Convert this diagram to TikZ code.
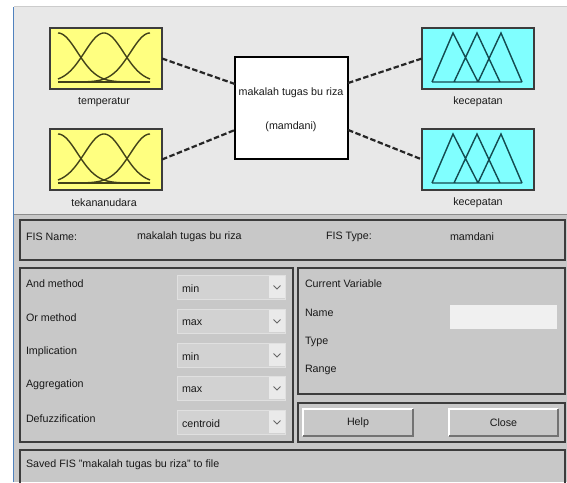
\documentclass[tikz,border=0pt]{standalone}
\usepackage{fontspec}
\setmainfont{Liberation Sans}
\usetikzlibrary{calc}

\definecolor{winbg}{RGB}{232,232,232}
\definecolor{panelbg}{RGB}{200,200,200}
\definecolor{mfyellow}{RGB}{255,255,128}
\definecolor{mfcyan}{RGB}{128,255,255}
\definecolor{inkdark}{RGB}{25,25,25}
\definecolor{edgedark}{RGB}{60,60,60}
\definecolor{winblue}{RGB}{80,130,190}
\definecolor{dropbg}{RGB}{210,210,210}
\definecolor{chevbg}{RGB}{234,234,234}
\definecolor{fieldbg}{RGB}{240,240,240}

\tikzset{
  txt/.style={inner sep=0pt, outer sep=0pt, text=inkdark,
    font=\fontsize{10.7}{12}\selectfont},
  lbl/.style={txt, anchor=west},
  mfbox/.style={draw=edgedark, line width=1.2pt, inner sep=0pt, outer sep=0pt,
    anchor=north west, minimum width=112, minimum height=61},
  mfinput/.style={mfbox, fill=mfyellow},
  mfoutput/.style={mfbox, fill=mfcyan},
  gausscurve/.style={draw={rgb,255:red,65;green,65;blue,25}, line width=1.4pt},
  tricurve/.style={draw={rgb,255:red,20;green,75;blue,80}, line width=1.4pt},
  fisbox/.style={draw=black, line width=1.6pt, fill=white, inner sep=0pt,
    outer sep=0pt, anchor=north west, minimum width=113, minimum height=102},
  link/.style={draw=black!85, line width=2.2pt, dash pattern=on 5.5pt off 2.5pt},
  panel/.style={draw=edgedark, line width=1.4pt},
  dropbox/.style={fill=dropbg, draw=black!12, line width=0.5pt},
  chevbox/.style={fill=chevbg},
  chev/.style={draw=black!60, line width=0.8pt},
  btn/.style={fill=panelbg},
  btnlight/.style={draw=white, line width=1.4pt},
  btndark/.style={draw=black!55, line width=1.4pt},
}

\begin{document}
\begin{tikzpicture}[x=1pt, y=-1pt]
\useasboundingbox (0,0) rectangle (567,482);
\fill[white] (0,0) rectangle (567,482);

% window background: diagram area and control area
\fill[winbg] (14,7) rectangle (567,214);
\fill[panelbg] (14,214) rectangle (567,482);
\draw[black!20, line width=0.8pt] (14,6.5) -- (567,6.5);
\draw[black!45, line width=1pt] (14,214) -- (567,214);
\draw[winblue, line width=1.5pt] (13.5,7) -- (13.5,482);

% input variables (gaussian membership functions)
\node[mfinput] (temp) at (50,28) {};
\node[mfinput] (tekanan) at (50,129) {};
\foreach \oy in {0,101} {
  \foreach \c in {58,104,150} {
    \draw[gausscurve] plot[domain=58:150, samples=70, smooth]
      (\x, {82+\oy-49*exp(-((\x-\c)^2)/(2*19.5^2))});
  }
  \draw[gausscurve] (58,82+\oy) -- (150,82+\oy);
}
\node[txt] (templbl) at (104,102) {temperatur};
\node[txt] (tekananlbl) at (104,203) {tekananudara};

% output variables (triangular membership functions)
\node[mfoutput] (kec1) at (422,28) {};
\node[mfoutput] (kec2) at (422,129) {};
\foreach \oy in {0,101} {
  \draw[tricurve, line join=miter]
    (432,82+\oy) -- (453,33+\oy) -- (478,82+\oy)
    (454,82+\oy) -- (477,33+\oy) -- (500,82+\oy)
    (478,82+\oy) -- (501,33+\oy) -- (522,82+\oy)
    (432,82+\oy) -- (522,82+\oy);
}
\node[txt] (kec1lbl) at (478,102) {kecepatan};
\node[txt] (kec2lbl) at (478,203) {kecepatan};

% FIS system block
\node[fisbox] (fis) at (235,57) {};
\node[txt] (fisname) at (291,93) {makalah tugas bu riza};
\node[txt] (fistype) at (291,127) {(mamdani)};

% rule-base links
\draw[link] (temp.east) -- ($(fis.north west)!0.265!(fis.south west)$);
\draw[link] (tekanan.east) -- ($(fis.north west)!0.715!(fis.south west)$);
\draw[link] ($(fis.north east)!0.255!(fis.south east)$) -- (kec1.west);
\draw[link] ($(fis.north east)!0.715!(fis.south east)$) -- (kec2.west);

% FIS name / type panel
\draw[panel] (20,220) rectangle (565,260);
\node[lbl] (namekey) at (26,237) {FIS Name:};
\node[lbl] (nameval) at (137,237) {makalah tugas bu riza};
\node[lbl] (typekey) at (326,237) {FIS Type:};
\node[lbl] (typeval) at (450,237) {mamdani};

% method panel
\draw[panel] (20,268) rectangle (293,442);
\foreach \y/\lab/\val in {275/And method/min, 309/Or method/max,
    343/Implication/min, 376/Aggregation/max, 410/Defuzzification/centroid} {
  \fill[dropbox] (177,\y) rectangle (285,\y+24);
  \fill[chevbox] (269,\y+1) rectangle (284.5,\y+23);
  \draw[chev] (273.5,\y+10.5) -- (277,\y+14) -- (280.5,\y+10.5);
  \node[lbl] at (26,\y+9) {\lab};
  \node[lbl] at (182,\y+14) {\val};
}

% current variable panel
\draw[panel] (298,268) rectangle (565,394);
\node[lbl] (curvar) at (305,284) {Current Variable};
\node[lbl] (varname) at (305,313) {Name};
\node[lbl] (vartype) at (305,342) {Type};
\node[lbl] (varrange) at (305,370) {Range};
\fill[fieldbg] (450,305) rectangle (557,329);

% buttons panel
\draw[panel] (298,403) rectangle (565,442);
\foreach \xa/\xb in {303/413, 449/558} {
  \fill[btn] (\xa,409) rectangle (\xb,436);
  \draw[btnlight] (\xa,436) -- (\xa,409) -- (\xb,409);
  \draw[btndark] (\xb,409) -- (\xb,436) -- (\xa,436);
}
\node[txt] (helpbtn) at (358,422.5) {Help};
\node[txt] (closebtn) at (503.5,422.5) {Close};

% status line
\draw[panel] (20,490) -- (20,450) -- (565,450) -- (565,490);
\node[lbl] (status) at (26,465) {Saved FIS "makalah tugas bu riza" to file};
\end{tikzpicture}
\end{document}
